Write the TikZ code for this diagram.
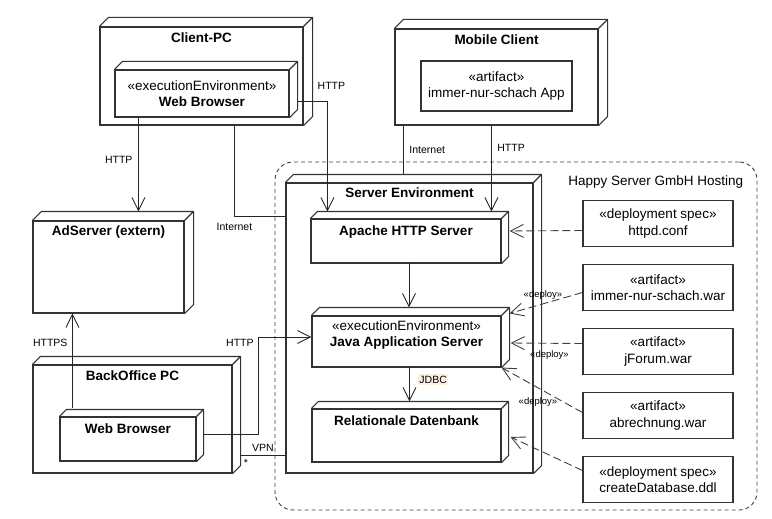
\documentclass[tikz,border=0pt]{standalone}
\usepackage{fontspec}
\setmainfont{Liberation Sans}
\usepackage{xcolor}
\usetikzlibrary{calc, arrows.meta, positioning}
\definecolor{jdbcbg}{RGB}{252,241,224}

\begin{document}
\begin{tikzpicture}
[x=1pt, y=-1pt, >={Straight Barb[length=13pt,width=13pt]},
line/.style={draw=black!85, line width=0.9pt},
dep/.style={draw=black!75, line width=0.9pt, dash pattern=on 8pt off 4pt},
border/.style={draw=black!80, line width=1.1pt},
node3d/.style={rectangle, fill=white, border, inner sep=0pt,
  append after command={\pgfextra{\draw[border, line join=round]
    (\tikzlastnode.north west) -- ++(#1pt,#1pt) -| ([shift={(#1pt,#1pt)}]\tikzlastnode.south east) -- (\tikzlastnode.south east)
    (\tikzlastnode.north east) -- ++(#1pt,#1pt);}}}]
% Define styles for texts, artifacts and the hosting area
\tikzstyle{txt} = [font=\fontsize{13.5}{16.5}\selectfont, align=center, inner sep=2pt]
\tikzstyle{nodetitle} = [txt, font=\fontsize{13.5}{16.5}\selectfont\bfseries]
\tikzstyle{lbl} = [font=\fontsize{10.5}{12}\selectfont, inner sep=1.5pt]
\tikzstyle{deploy} = [font=\fontsize{9.5}{11}\selectfont, inner sep=1pt]
\tikzstyle{artifact} = [draw, rectangle, fill=white, border, txt, minimum width=150pt, minimum height=46pt]
\tikzstyle{hosting} = [draw=black!75, line width=0.9pt, dash pattern=on 4pt off 3pt, rounded corners=18pt, inner sep=0pt]

\useasboundingbox (0,0) rectangle (772,519);

% Hosting area
\node [hosting, minimum width=482pt, minimum height=348pt] (hosting) at (516,336) {};
\node [txt, below left=12pt and 12pt of hosting.north east] (hostinglabel) {Happy Server GmbH Hosting};

% Client side
\node [node3d=9, minimum width=203pt, minimum height=98pt] (client) at (201.5,76) {};
\node [nodetitle, below=4pt of client.north] (clientlabel) {Client-PC};
\node [node3d=8, txt, minimum width=174pt, minimum height=47pt] (browser) at (202,93.5) {«executionEnvironment»\\\textbf{Web Browser}};

\node [node3d=9, minimum width=203pt, minimum height=96pt] (mobile) at (496.5,77) {};
\node [nodetitle, below=4pt of mobile.north] (mobilelabel) {Mobile Client};
\node [artifact, minimum width=151pt, minimum height=50pt] (app) at (496.5,86) {«artifact»\\immer-nur-schach App};

\node [node3d=9, minimum width=151pt, minimum height=92pt] (adserver) at (108.5,267) {};
\node [nodetitle, below=3pt of adserver.north] (adlabel) {AdServer (extern)};

\node [node3d=8, minimum width=199pt, minimum height=108pt] (backoffice) at (132.5,419) {};
\node [nodetitle, below=4pt of backoffice.north] (backofficelabel) {BackOffice PC};
\node [node3d=7, minimum width=136pt, minimum height=44pt] (bobrowser) at (128,439) {};
\node [nodetitle, below=5pt of bobrowser.north] (bobrowserlabel) {Web Browser};

% Server side
\node [node3d=8, minimum width=247pt, minimum height=290pt] (server) at (409.5,328) {};
\node [nodetitle, below=3pt of server.north] (serverlabel) {Server Environment};
\node [node3d=7, minimum width=190pt, minimum height=44pt] (apache) at (406,241) {};
\node [nodetitle, below=5pt of apache.north] (apachelabel) {Apache HTTP Server};
\node [node3d=8, minimum width=189pt, minimum height=51pt] (java) at (406.5,341.5) {};
\node [txt, below=3pt of java.north] (javalabel) {«executionEnvironment»\\\textbf{Java Application Server}};
\node [node3d=7, minimum width=189pt, minimum height=53pt] (db) at (406.5,435.5) {};
\node [nodetitle, below=5pt of db.north] (dblabel) {Relationale Datenbank};

% Deployed artifacts
\node [artifact] (httpd) at (658,223.5) {«deployment spec»\\httpd.conf};
\node [artifact, below of=httpd, node distance=64pt] (schachwar) {«artifact»\\immer-nur-schach.war};
\node [artifact, below of=schachwar, node distance=64pt] (jforum) {«artifact»\\jForum.war};
\node [artifact, below of=jforum, node distance=64pt] (abrechnung) {«artifact»\\abrechnung.war};
\node [artifact, below of=abrechnung, node distance=64pt] (ddl) {«deployment spec»\\createDatabase.ddl};

% Communication paths
\draw[line,->] ($(browser.south west)+(24,0)$) -- node[lbl, pos=0.45, left=4pt] {HTTP} ($(adserver.north west)+(106,-9)$);
\draw[line,->] ($(browser.east)+(8,7.5)$) -| node[lbl, pos=0.5, above=10pt, xshift=4pt] {HTTP} ($(apache.north west)+(17,-7)$);
\draw[line] ($(client.south west)+(135,0)$) |- node[lbl, pos=0.5, below=5pt] {Internet} ($(server.north west)+(0,34)$);
\draw[line] ($(mobile.south west)+(9,0)$) -- node[lbl, midway, right=4pt] {Internet} ($(server.north west)+(118,-8)$);
\draw[line,->] ($(mobile.south west)+(97,0)$) -- node[lbl, pos=0.26, right=4pt] {HTTP} ($(apache.north west)+(181,-7)$);
\draw[line,->] ($(bobrowser.north west)+(13,-8)$) -- node[lbl, pos=0.69, left=3pt] {HTTPS} ($(adserver.south west)+(40,0)$);
\draw[line,->] ($(bobrowser.east)+(7,-5)$) -- ++(55,0) |- node[lbl, pos=0.47, left=3pt] {HTTP} ($(java.west)+(0,-4.5)$);
\draw[line] ($(backoffice.south east)+(8,-18)$) -- node[lbl, midway, above=2pt] {VPN} node[lbl, pos=0.12, below=2pt] {*} ($(server.south west)+(0,-18)$);
\draw[line,->] ($(apache.south)+(3,0)$) -- ($(java.north)+(2.5,-8)$);
\draw[line,->] ($(java.south)+(3,0)$) -- node[lbl, pos=0.35, right=8pt, fill=jdbcbg] {JDBC} ($(db.north)+(3,-7)$);

% Deployments
\draw[dep,->] ($(httpd.west)+(0,7)$) -- ($(apache.east)+(8,-10)$);
\draw[dep,->] ($(schachwar.west)+(0,5)$) -- node[deploy, midway, above=2pt, xshift=-3pt] {«deploy»} ($(java.north east)+(8,-2)$);
\draw[dep,->] ($(jforum.west)+(0,-8)$) -- node[deploy, midway, below=5.5pt, xshift=3pt] {«deploy»} ($(java.east)+(9,1.5)$);
\draw[dep,->] ($(abrechnung.west)+(0,-3)$) -- node[deploy, pos=0.5, below=6pt, xshift=-4pt] {«deploy»} (java.south east);
\draw[dep,->] ($(ddl.west)+(0,-9)$) -- ($(db.east)+(9,1.5)$);
\end{tikzpicture}
\end{document}
